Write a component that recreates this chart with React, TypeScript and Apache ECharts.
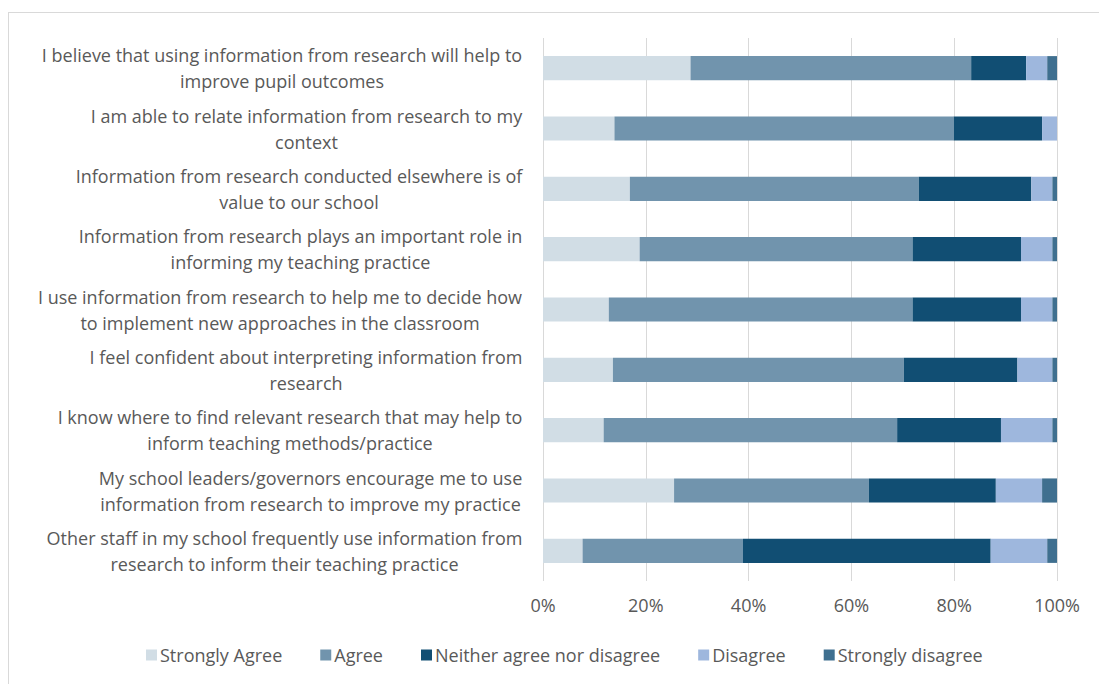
import React, { useEffect, useRef } from "react";
import * as echarts from "echarts";

const categories = [
  "I believe that using information from research will help to\nimprove pupil outcomes",
  "I am able to relate information from research to my\ncontext",
  "Information from research conducted elsewhere is of\nvalue to our school",
  "Information from research plays an important role in\ninforming my teaching practice",
  "I use information from research to help me to decide how\nto implement new approaches in the classroom",
  "I feel confident about interpreting information from\nresearch",
  "I know where to find relevant research that may help to\ninform teaching methods/practice",
  "My school leaders/governors encourage me to use\ninformation from research to improve my practice",
  "Other staff in my school frequently use information from\nresearch to inform their teaching practice",
];

const seriesNames = [
  "Strongly Agree",
  "Agree",
  "Neither agree nor disagree",
  "Disagree",
  "Strongly disagree",
];

const stronglyAgree = [28.7, 13.9, 16.9, 18.8, 12.8, 13.6, 11.8, 25.5, 7.7];
const agree = [54.6, 66.0, 56.2, 53.1, 59.1, 56.6, 57.1, 37.9, 31.2];
const neither = [10.7, 17.2, 21.9, 21.1, 21.1, 22.1, 20.2, 24.7, 48.2];
const disagree = [4.1, 2.9, 4.1, 6.1, 6.1, 6.8, 10.0, 9.0, 11.0];
const stronglyDisagree = [1.9, 0, 0.9, 0.9, 0.9, 0.9, 0.9, 2.9, 1.9];

const xTicks = [0, 20, 40, 60, 80, 100];

const colors = ["#d1dde5", "#7194ad", "#114e73", "#9eb7dd", "#3f6f8f"];

const FONT_FAMILY = "Open Sans";
const FONT_SIZE = 18;
const TEXT_COLOR = "#595959";

export default function App() {
  const ref = useRef<HTMLDivElement>(null);

  useEffect(() => {
    if (!ref.current) return;
    const chart = echarts.init(ref.current, undefined, { renderer: "svg" });

    const canvas = document.createElement("canvas");
    const ctx = canvas.getContext("2d")!;
    ctx.font = `${FONT_SIZE}px "${FONT_FAMILY}"`;
    const rich: Record<string, any> = {};
    categories.forEach((c, i) => {
      const w = Math.max(...c.split("\n").map((l) => ctx.measureText(l).width));
      rich["l" + i] = {
        width: Math.ceil(w) + 1,
        align: "center",
        fontSize: FONT_SIZE,
        fontFamily: FONT_FAMILY,
        color: TEXT_COLOR,
        lineHeight: 26,
      };
    });

    const values = [stronglyAgree, agree, neither, disagree, stronglyDisagree];

    chart.setOption({
      animation: false,
      color: colors,
      grid: { left: 543, right: 42, top: 38, height: 543, containLabel: false },
      legend: {
        data: seriesNames,
        top: 641,
        left: 141,
        icon: "rect",
        itemWidth: 11,
        itemHeight: 11,
        itemGap: 38,
        textStyle: { fontSize: FONT_SIZE, fontFamily: FONT_FAMILY, color: TEXT_COLOR, padding: [0, 0, 0, -2] },
      },
      xAxis: {
        type: "value",
        min: xTicks[0],
        max: xTicks[xTicks.length - 1],
        interval: xTicks[1] - xTicks[0],
        axisLine: { show: false },
        axisTick: { show: false },
        splitLine: { show: true, lineStyle: { color: "#d9d9d9", width: 1 } },
        axisLabel: {
          formatter: "{value}%",
          fontSize: FONT_SIZE,
          fontFamily: FONT_FAMILY,
          color: TEXT_COLOR,
          margin: 15,
        },
      },
      yAxis: {
        type: "category",
        inverse: true,
        data: categories,
        axisLine: { show: false },
        axisTick: { show: false },
        axisLabel: {
          align: "right",
          margin: 20,
          formatter: (v: string, i: number) =>
            v
              .split("\n")
              .map((l) => `{l${i}|${l}}`)
              .join("\n"),
          rich,
        },
      },
      series: values.map((d, i) => ({
        name: seriesNames[i],
        type: "bar",
        stack: "total",
        barWidth: "40%",
        data: d,
        itemStyle: { color: colors[i] },
      })),
    });

    return () => chart.dispose();
  }, []);

  return (
    <div style={{ position: "absolute", left: 0, top: 0, width: 1099, height: 684, overflow: "hidden", background: "#fff" }}>
      <div
        style={{
          position: "absolute",
          left: 8,
          top: 12,
          width: 1200,
          height: 1000,
          borderLeft: "1px solid #d9d9d9",
          borderTop: "1px solid #d9d9d9",
        }}
      />
      <div ref={ref} style={{ position: "absolute", left: 0, top: 0, width: 1099, height: 684 }} />
    </div>
  );
}
